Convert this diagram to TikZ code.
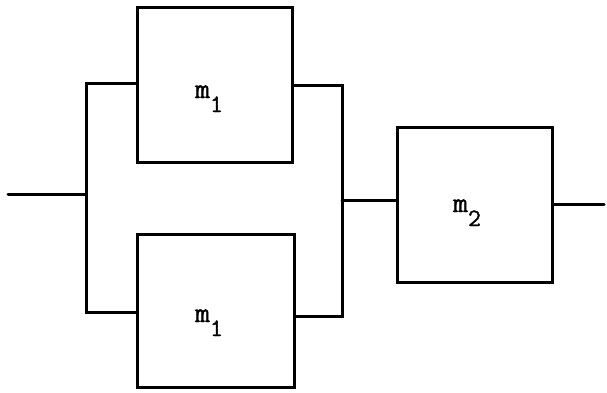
\documentclass[tikz,border=0pt]{standalone}
\usepackage{fontspec}
\setmonofont{Latin Modern Mono}[FakeBold=1.3]
\begin{document}
\begin{tikzpicture}[x=1pt,y=-1pt,
  wire/.style={line width=3pt,line cap=round,line join=miter},
  block/.style={draw,line width=3pt,rectangle,inner sep=0pt},
  lbl/.style={font=\ttfamily}]
\useasboundingbox (0,0) rectangle (607,392);
% blocks
\node[block,minimum width=155pt,minimum height=155pt] (a) at (214.5,84.5) {};
\node[block,minimum width=157pt,minimum height=153pt] (b) at (216,310.5) {};
\node[block,minimum width=155pt,minimum height=155pt] (c) at (474.5,205) {};
% labels
\node[lbl,anchor=base] (la) at (209,98) {\fontsize{29}{32}\selectfont m\raisebox{-14pt}{\fontsize{25}{27}\selectfont 1}};
\node[lbl,anchor=base] (lb) at (209,322) {\fontsize{29}{32}\selectfont m\raisebox{-14pt}{\fontsize{25}{27}\selectfont 1}};
\node[lbl,anchor=base] (lc) at (467,212) {\fontsize{29}{32}\selectfont m\raisebox{-14pt}{\fontsize{25}{27}\selectfont 2}};
% junction points
\coordinate (in) at (8,194);
\coordinate (jl) at (86,194);
\coordinate (tl) at (86,83);
\coordinate (bl) at (86,312);
\coordinate (tr) at (342,85);
\coordinate (br) at (342,316);
\coordinate (jr) at (342,200);
\coordinate (out) at (604,204);
% wiring
\draw[wire] (in) -- (jl);
\draw[wire] (tl -| a.west) -- (tl) -- (bl) -- (bl -| b.west);
\draw[wire] (tr -| a.east) -- (tr) -- (br) -- (br -| b.east);
\draw[wire] (jr) -- (jr -| c.west);
\draw[wire] (out -| c.east) -- (out);
\end{tikzpicture}
\end{document}
